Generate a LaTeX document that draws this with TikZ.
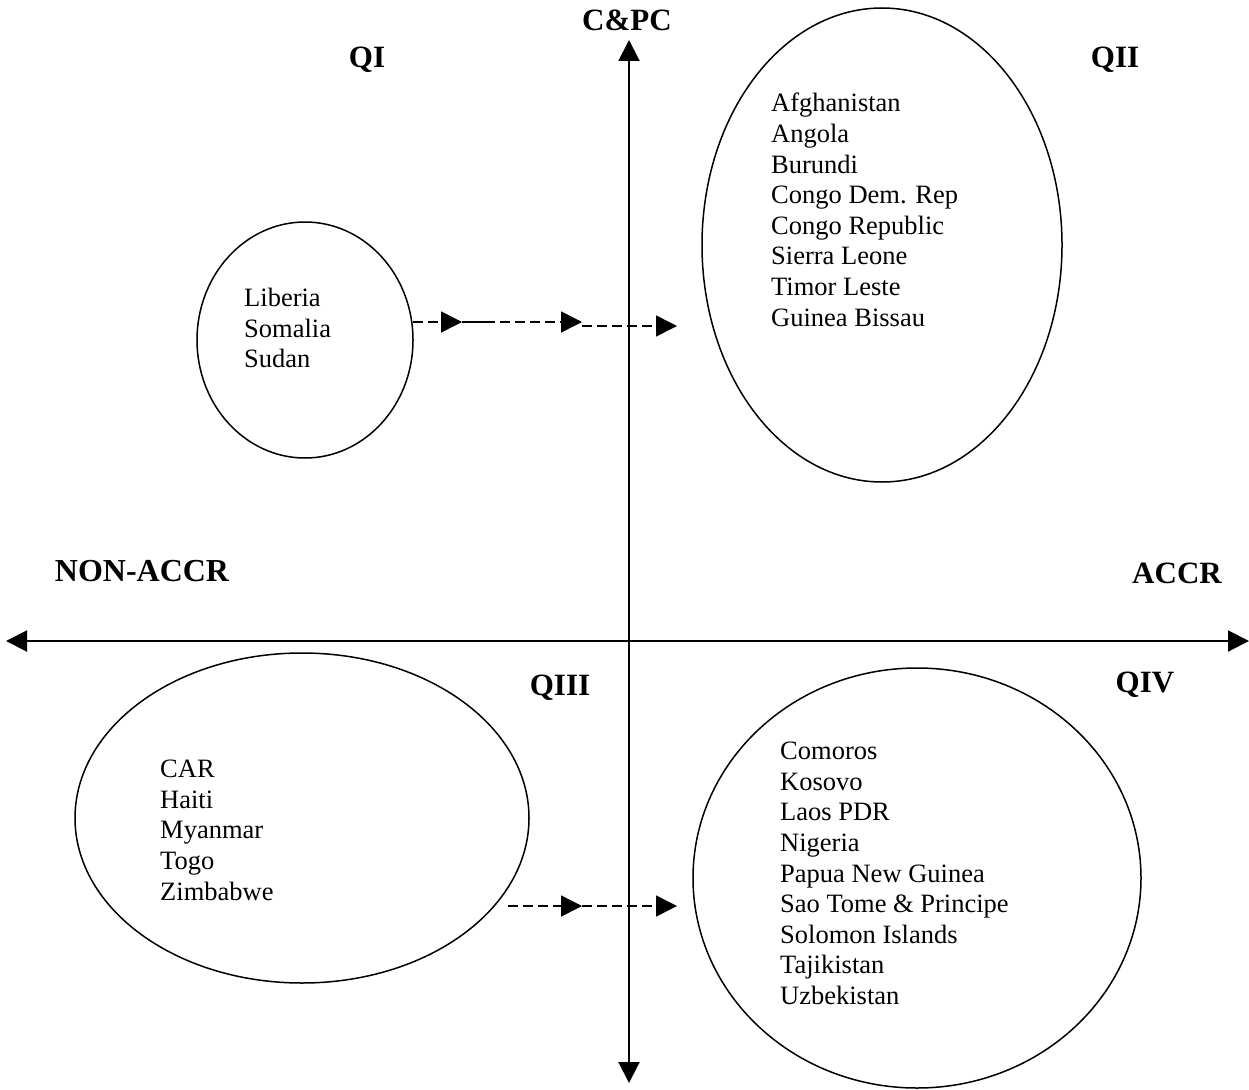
\documentclass[tikz,border=0pt]{standalone}
\usepackage{fontspec}
\setmainfont{Liberation Serif}
\usetikzlibrary{positioning, arrows.meta, shapes.geometric}

\begin{document}
\begin{tikzpicture}[
    x=1pt, y=-1pt,
    >={Triangle[length=21pt,width=21pt]},
    font=\fontsize{26.5}{30.6}\selectfont,
    axis/.style={<->, line width=2pt},
    quadrant/.style={
        font=\fontsize{31}{36}\selectfont\bfseries,
        anchor=base,
        inner sep=0pt
    },
    group/.style={
        draw,
        ellipse,
        line width=1.5pt,
        inner sep=0pt
    },
    countries/.style={align=left, anchor=north west, inner sep=0pt},
    move/.style={->, line width=1.5pt, dash pattern=on 10pt off 5pt}
]

\useasboundingbox (0,0) rectangle (1249,1089);

% axes
\coordinate (top) at (629,40);
\coordinate (bottom) at (629,1083);
\coordinate (left) at (6,641);
\coordinate (right) at (1249,641);
\draw[axis] (left) -- (right);
\draw[axis] (bottom) -- (top);

\node[quadrant] (cpc) at (627,31) {C\&PC};
\node[quadrant, font=\fontsize{32}{36}\selectfont\bfseries] (nonaccr) at (142,581) {NON-ACCR};
\node[quadrant] (accr) at (1177,583) {ACCR};
\node[quadrant] (q1) at (367,68) {QI};
\node[quadrant] (q2) at (1115,68) {QII};
\node[quadrant] (q3) at (560,695) {QIII};
\node[quadrant] (q4) at (1145,692) {QIV};

% groups of countries
\node[group, minimum width=216pt, minimum height=236pt] (g1) at (305,340) {};
\node[group, minimum width=360pt, minimum height=474pt] (g2) at (882,245) {};
\node[group, minimum width=454pt, minimum height=330pt] (g3) at (302,818) {};
\node[group, minimum width=448pt, minimum height=420pt] (g4) at (917,878) {};

\node[countries] (list1) at (244,288) {Liberia\\Somalia\\Sudan};
\node[countries] (list2) at (771,93) {Afghanistan\\Angola\\Burundi\\Congo Dem. Rep\\Congo Republic\\Sierra Leone\\Timor Leste\\Guinea Bissau};
\node[countries] (list3) at (160,760) {CAR\\Haiti\\Myanmar\\Togo\\Zimbabwe};
\node[countries] (list4) at (780,742) {Comoros\\Kosovo\\Laos PDR\\Nigeria\\Papua New Guinea\\Sao Tome \& Principe\\Solomon Islands\\Tajikistan\\Uzbekistan};

% moves between quadrants
\coordinate (a0) at (413,322);
\coordinate (a1) at (462,322);
\coordinate (a2) at (485,322);
\coordinate (a3) at (582,322);
\coordinate (a4) at (582,326);
\coordinate (a5) at (677,326);
\draw[move] (a0) -- (a1);
\draw[line width=1.5pt] (a1) -- (a2);
\draw[move] (a2) -- (a3);
\draw[move] (a4) -- (a5);

\coordinate (b0) at (508,906);
\coordinate (b1) at (582,906);
\coordinate (b2) at (677,906);
\draw[move] (b0) -- (b1);
\draw[move] (b1) -- (b2);

\end{tikzpicture}
\end{document}
